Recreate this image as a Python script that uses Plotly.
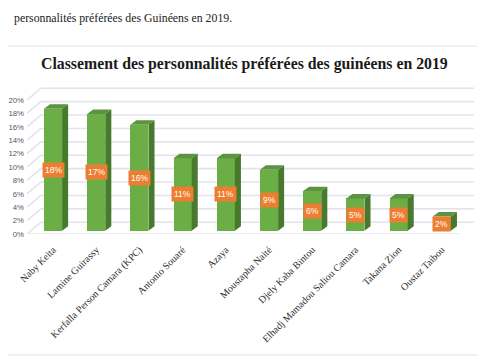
import plotly.graph_objects as go

categories = ["Naby Keita", "Lamine Guirassy", "Kerfalla Person Camara (KPC)", "Antonio Souaré",
              "Azaya", "Moustapha Naité", "Djely Kaba Bintou", "Elhadj Mamadou Saliou Camara",
              "Takana Zion", "Oustaz Taibou"]
values = [18.2, 17.4, 15.8, 10.8, 10.8, 9.1, 5.9, 4.8, 4.8, 2.1]
labels = ["18%", "17%", "16%", "11%", "11%", "9%", "6%", "5%", "5%", "2%"]
y_ticks = [0, 2, 4, 6, 8, 10, 12, 14, 16, 18, 20]
y_tick_text = [f"{t}%" for t in y_ticks]

title = "Classement des personnalités préférées des guinéens en 2019"
page_text = "personnalités préférées des Guinéens en 2019."

# geometry of the pseudo-3D look (axis units)
X0, XR, XFR = -0.602, 9.745, 9.42
WALL_DX, WALL_DY = 0.32, 1.75
BAR_W, DEPTH_DX, DEPTH_DY, BASE = 0.42, 0.14, 0.67, 0.5
n = len(categories)
xs = list(range(n))

fig = go.Figure()

# gridlines (drawn below traces): side wall diagonal + back wall horizontal
grid_color = "#e3e3eb"
shapes = []
for t in y_ticks:
    shapes.append(dict(type="line", xref="x", yref="y", x0=X0, y0=t, x1=X0 + WALL_DX, y1=t + WALL_DY,
                       layer="below", line=dict(color=grid_color, width=1.6)))
    shapes.append(dict(type="line", xref="x", yref="y", x0=X0 + WALL_DX, y0=t + WALL_DY, x1=XR,
                       y1=t + WALL_DY, layer="below", line=dict(color=grid_color, width=1.6)))
shapes.append(dict(type="line", xref="x", yref="y", x0=X0, y0=0, x1=XFR, y1=0,
                   layer="below", line=dict(color=grid_color, width=1.6)))

# page border lines
shapes.append(dict(type="line", xref="paper", yref="paper", x0=-0.1, x1=1.05,
                   y0=(234 - 46) / 154, y1=(234 - 46) / 154, line=dict(color="#e2e2e2", width=1)))
shapes.append(dict(type="line", xref="paper", yref="paper", x0=-0.1, x1=1.05,
                   y0=(234 - 355) / 154, y1=(234 - 355) / 154, line=dict(color="#e2e2e2", width=1)))

# front faces
fig.add_trace(go.Bar(x=xs, y=values, base=[BASE] * n, width=BAR_W,
                     marker=dict(color="#6aae45", line=dict(width=0)), showlegend=False))

# side faces and top faces
sx, sy, tx, ty = [], [], [], []
for i, v in zip(xs, values):
    r = i + BAR_W / 2
    l = i - BAR_W / 2
    top = BASE + v
    sx += [r, r + DEPTH_DX, r + DEPTH_DX, r, r, None]
    sy += [BASE, BASE + DEPTH_DY, top + DEPTH_DY, top, BASE, None]
    tx += [l, l + DEPTH_DX, r + DEPTH_DX, r, l, None]
    ty += [top, top + DEPTH_DY, top + DEPTH_DY, top, top, None]
fig.add_trace(go.Scatter(x=sx, y=sy, mode="lines", fill="toself", fillcolor="#477a2c",
                         line=dict(width=0, color="#477a2c"), hoverinfo="skip", showlegend=False))
fig.add_trace(go.Scatter(x=tx, y=ty, mode="lines", fill="toself", fillcolor="#5b9340",
                         line=dict(width=0, color="#5b9340"), hoverinfo="skip", showlegend=False))

annotations = []
for i, v, lb in zip(xs, values, labels):
    annotations.append(dict(x=i, y=BASE + v / 2, xref="x", yref="y", text=lb, showarrow=False,
                            bgcolor="#ED7D31", borderpad=2,
                            font=dict(family="Liberation Sans", size=8.5, color="white")))

# title and page text
annotations.append(dict(x=(244 - 27) / 447, y=(234 - 64) / 154, xref="paper", yref="paper",
                        text=f"<b>{title}</b>", showarrow=False, xanchor="center", yanchor="middle",
                        font=dict(family="Liberation Serif", size=15.8, color="#1a1a1a")))
annotations.append(dict(x=(12 - 27) / 447, y=(234 - 18) / 154, xref="paper", yref="paper",
                        text=page_text, showarrow=False, xanchor="left", yanchor="middle",
                        font=dict(family="Liberation Serif", size=11.8, color="#1a1a1a")))

# the page adds an 8px body margin, so the figure is offset by -8px
fig.update_layout(
    width=485, height=360,
    margin=dict(l=19, r=19, t=72, b=134),
    paper_bgcolor="white", plot_bgcolor="white",
    bargap=0,
    annotations=annotations,
    shapes=shapes,
    xaxis=dict(range=[X0, XR], tickmode="array", tickvals=xs, ticktext=categories,
               tickangle=-45, showgrid=False, zeroline=False, showline=False, ticks="",
               automargin=False, ticklabelstandoff=7,
               tickfont=dict(family="Liberation Serif", size=10, color="#2a2a2a"), fixedrange=True),
    yaxis=dict(range=[0, 22.985], tickmode="array", tickvals=y_ticks, ticktext=y_tick_text,
               showgrid=False, zeroline=False, showline=False, ticks="", ticklabelstandoff=2,
               automargin=False,
               tickfont=dict(family="Liberation Sans", size=7.8, color="#595959"), fixedrange=True),
)

fig.write_html("out.html")
